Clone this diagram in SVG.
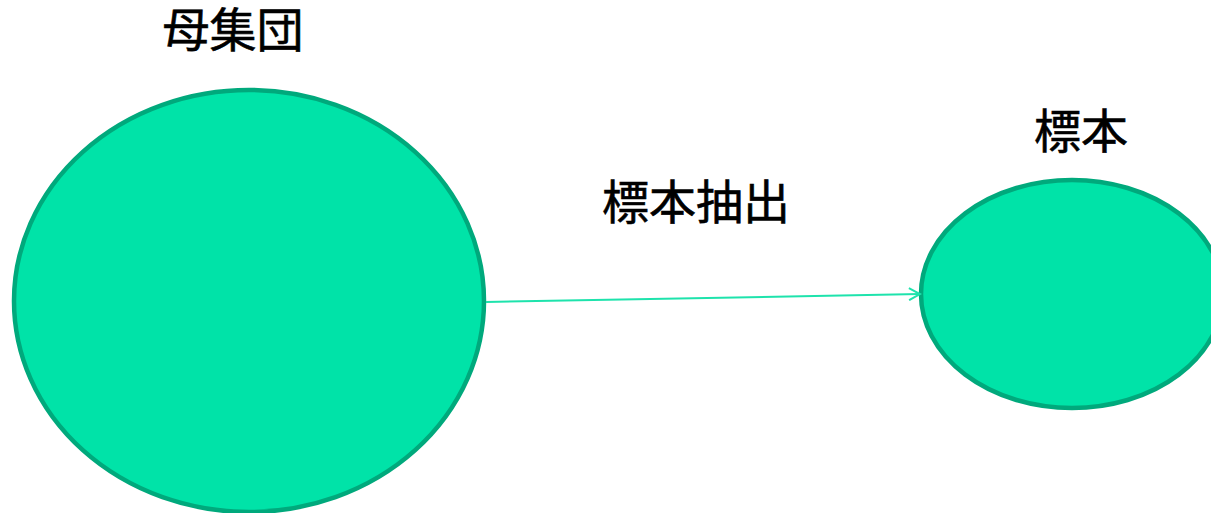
<svg xmlns="http://www.w3.org/2000/svg" width="1211" height="513" viewBox="0 0 1211 513">
<style>
.node{fill:#00e3a8;stroke:#00a97c;stroke-width:4.5}
.lbl{font-family:"Noto Sans CJK JP","Noto Sans CJK SC",sans-serif;font-size:47px;fill:#000;stroke:#000;stroke-width:0.6;text-anchor:middle;dominant-baseline:central}
.conn{stroke:#1ee3ac;stroke-width:2;fill:none}
</style>
<defs>
<marker id="arr" markerWidth="14" markerHeight="14" refX="12" refY="7" orient="auto" markerUnits="userSpaceOnUse">
<path d="M1,1 L12,7 L1,13" fill="none" stroke="#1ee3ac" stroke-width="2"/>
</marker>
</defs>
<rect width="1211" height="513" fill="#fff"/>
<g id="population">
<ellipse class="node" cx="249" cy="301" rx="235" ry="211"/>
<text class="lbl" x="233" y="26">母集団</text>
</g>
<g id="sample">
<ellipse class="node" cx="1072" cy="294" rx="151" ry="114"/>
<text class="lbl" x="1081" y="127">標本</text>
</g>
<g id="connectors">
<line class="conn" x1="486" y1="302" x2="920" y2="294" marker-end="url(#arr)"/>
<text class="lbl" x="696" y="198">標本抽出</text>
</g>
</svg>
